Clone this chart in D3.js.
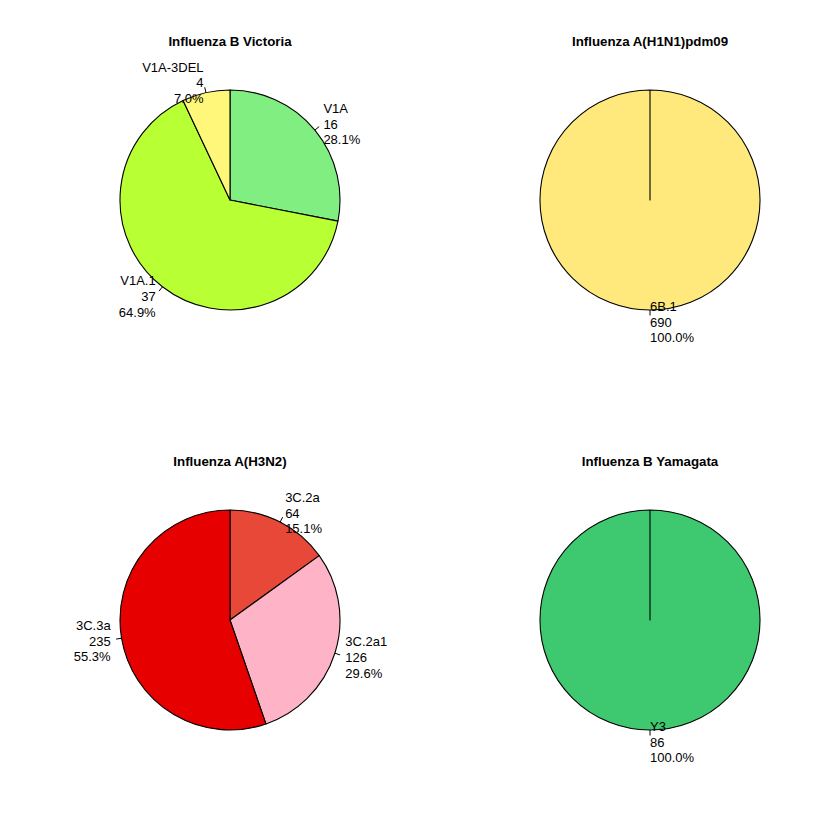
<!DOCTYPE html>
<html><head><meta charset="utf-8">
<script src="https://cdn.jsdelivr.net/npm/d3@7"></script>
<style>body{margin:0;background:#fff}svg{display:block}text{font-family:"Liberation Sans",Arial,Helvetica,sans-serif}</style>
</head><body>
<svg id="c" width="840" height="840"></svg>
<script>
const titles = ["Influenza B Victoria", "Influenza A(H1N1)pdm09", "Influenza A(H3N2)", "Influenza B Yamagata"];
const victoriaClades = ["V1A", "V1A.1", "V1A-3DEL"];
const victoriaCounts = [16, 37, 4];
const h1n1Clades = ["6B.1"];
const h1n1Counts = [690];
const h3n2Clades = ["3C.2a", "3C.2a1", "3C.3a"];
const h3n2Counts = [64, 126, 235];
const yamagataClades = ["Y3"];
const yamagataCounts = [86];

const victoriaColors = ["#80ee80", "#b8ff33", "#fff77a"];
const h1n1Colors = ["#ffe87c"];
const h3n2Colors = ["#e84838", "#ffb3c6", "#e60000"];
const yamagataColors = ["#3ec870"];

const panels = [
  {title: titles[0], labels: victoriaClades, values: victoriaCounts, colors: victoriaColors, cx: 230, cy: 200},
  {title: titles[1], labels: h1n1Clades, values: h1n1Counts, colors: h1n1Colors, cx: 650, cy: 200},
  {title: titles[2], labels: h3n2Clades, values: h3n2Counts, colors: h3n2Colors, cx: 230, cy: 620},
  {title: titles[3], labels: yamagataClades, values: yamagataCounts, colors: yamagataColors, cx: 650, cy: 620}
];

const svg = d3.select("#c");
const R = 110;
const lineH = 15.6;

panels.forEach(p => {
  const g = svg.append("g").attr("transform", `translate(${p.cx},${p.cy})`);
  g.append("text").attr("x", 0).attr("y", -R - 44)
    .attr("text-anchor", "middle").attr("font-weight", "bold").attr("font-size", "13.3px")
    .text(p.title);
  const total = d3.sum(p.values);
  const arcs = d3.pie().sort(null).value(d => d)(p.values);
  arcs.forEach((a, i) => {
    const path = d3.path();
    path.moveTo(0, 0);
    path.lineTo(R * Math.sin(a.startAngle), -R * Math.cos(a.startAngle));
    path.arc(0, 0, R, a.startAngle - Math.PI / 2, a.endAngle - Math.PI / 2, false);
    path.closePath();
    g.append("path").attr("d", path.toString())
      .attr("fill", p.colors[i]).attr("stroke", "#000").attr("stroke-width", 1.1)
      .attr("stroke-linejoin", "round");
  });
  arcs.forEach((a, i) => {
    const mid = (a.startAngle + a.endAngle) / 2;
    const sx = Math.sin(mid), sy = -Math.cos(mid);
    g.append("line")
      .attr("x1", R * sx).attr("y1", R * sy)
      .attr("x2", 1.05 * R * sx).attr("y2", 1.05 * R * sy)
      .attr("stroke", "#000").attr("stroke-width", 1);
    const lx = 1.1 * R * sx, ly = 1.1 * R * sy;
    const anchor = sx < -1e-9 ? "end" : "start";
    const lines = [p.labels[i], String(p.values[i]), (100 * p.values[i] / total).toFixed(1) + "%"];
    const t = g.append("text").attr("font-size", "13px").attr("text-anchor", anchor).attr("fill", "#000");
    lines.forEach((s, k) => {
      t.append("tspan").attr("x", lx).attr("y", ly + (k - 1) * lineH + 1).attr("dy", "0.35em").text(s);
    });
  });
});
</script>
</body></html>
